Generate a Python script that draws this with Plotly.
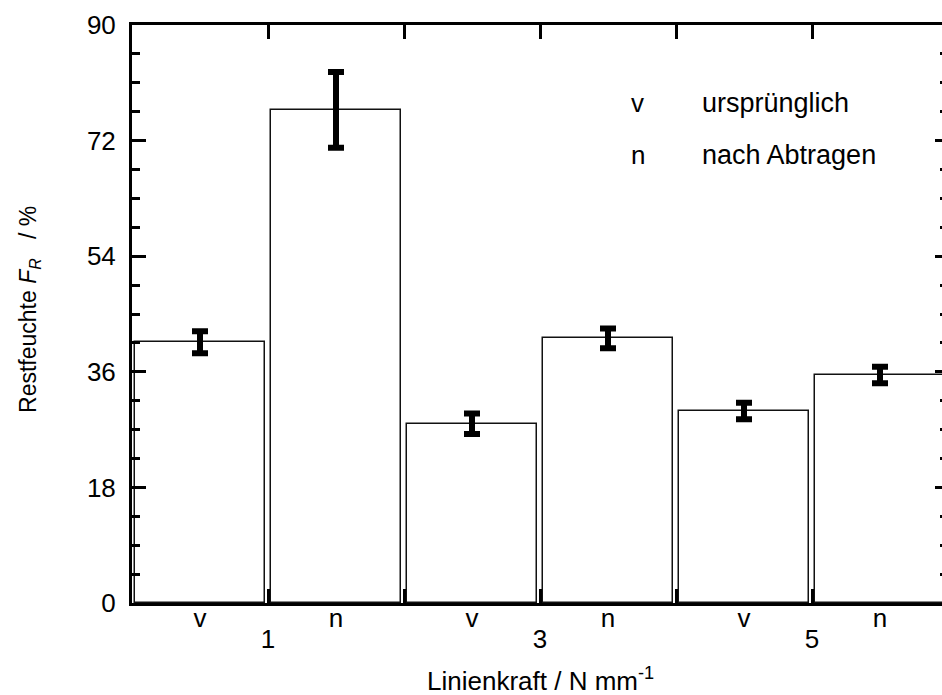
import plotly.graph_objects as go

# Data
bar_positions = [0.5, 1.5, 2.5, 3.5, 4.5, 5.5]
bar_labels = ["v", "n", "v", "n", "v", "n"]
restfeuchte = [40.6, 76.8, 27.9, 41.2, 29.9, 35.5]
restfeuchte_err = [1.7, 5.9, 1.6, 1.55, 1.3, 1.3]
linienkraft_ticks = [1, 2, 3, 4, 5]
linienkraft_labels = ["1", "", "3", "", "5"]
y_ticks = [0, 18, 36, 54, 72, 90]

FONT = "Arial, Liberation Sans, Helvetica, sans-serif"

fig = go.Figure()
fig.add_trace(go.Bar(
    x=bar_positions, y=restfeuchte, width=0.95,
    marker=dict(color="white", line=dict(color="#111111", width=1.5)),
    error_y=dict(type="data", array=restfeuchte_err, visible=True,
                 thickness=6, width=8, color="black"),
    showlegend=False, hoverinfo="skip",
))
# invisible trace to anchor the extra axes
fig.add_trace(go.Scatter(x=[1], y=[0], xaxis="x2", yaxis="y2", mode="markers",
                         marker=dict(opacity=0), showlegend=False, hoverinfo="skip"))

fig.update_layout(
    width=948, height=695,
    margin=dict(l=132, r=0, t=25, b=92),
    plot_bgcolor="white", paper_bgcolor="white",
    font=dict(family=FONT, size=26, color="black"),
    bargap=0,
    xaxis=dict(
        range=[0, 6], tickmode="array", tickvals=bar_positions, ticktext=bar_labels,
        ticks="", showline=True, linewidth=3, linecolor="black", mirror=True,
        showgrid=False, zeroline=False, ticklabelstandoff=-10,
        tickfont=dict(size=26),
    ),
    xaxis2=dict(
        range=[0, 6], overlaying="x", side="bottom", anchor="y",
        tickmode="array", tickvals=linienkraft_ticks, ticktext=linienkraft_labels,
        ticks="inside", ticklen=14, tickwidth=3, tickcolor="black",
        showline=False, mirror="ticks", showgrid=False, zeroline=False,
        ticklabelstandoff=18, tickfont=dict(size=26),
    ),
    yaxis=dict(
        range=[0, 90], tickmode="array", tickvals=y_ticks,
        ticks="inside", ticklen=14, tickwidth=3, tickcolor="black",
        minor=dict(dtick=4.5, ticks="inside", ticklen=8, tickwidth=3, tickcolor="black", showgrid=False),
        showline=True, linewidth=3, linecolor="black", mirror=False,
        showgrid=False, zeroline=False, ticklabelstandoff=8,
        tickfont=dict(size=26),
    ),
    yaxis2=dict(
        range=[0, 90], overlaying="y", side="right", anchor="x",
        tickmode="array", tickvals=y_ticks, showticklabels=False,
        ticks="inside", ticklen=13, tickwidth=3, tickcolor="black",
        minor=dict(dtick=4.5, ticks="inside", ticklen=8, tickwidth=3, tickcolor="black", showgrid=False),
        showline=False, showgrid=False, zeroline=False,
    ),
)

# axis titles
fig.add_annotation(x=-0.125, y=0.507, xref="paper", yref="paper", textangle=-90,
                   text="Restfeuchte <i>F</i><sub><i>R</i></sub>   / %", showarrow=False,
                   font=dict(size=23), xanchor="center", yanchor="middle")
fig.add_annotation(x=0.5, y=-0.133, xref="paper", yref="paper",
                   text="Linienkraft / N mm<sup>-1</sup>", showarrow=False,
                   font=dict(size=26), xanchor="center", yanchor="middle")

legend_items = [("v", "ursprünglich", 77.9), ("n", "nach Abtragen", 69.8)]
for sym, txt, yy in legend_items:
    fig.add_annotation(x=3.72, y=yy, xref="x", yref="y", text=sym, showarrow=False,
                       font=dict(size=26), xanchor="center", yanchor="middle")
    fig.add_annotation(x=4.18, y=yy, xref="x", yref="y", text=txt, showarrow=False,
                       font=dict(size=27), xanchor="left", yanchor="middle")

fig.write_html(
    "out.html",
    config={"displayModeBar": False},
    post_script="document.body.style.margin='0';document.body.style.overflow='hidden';",
)
